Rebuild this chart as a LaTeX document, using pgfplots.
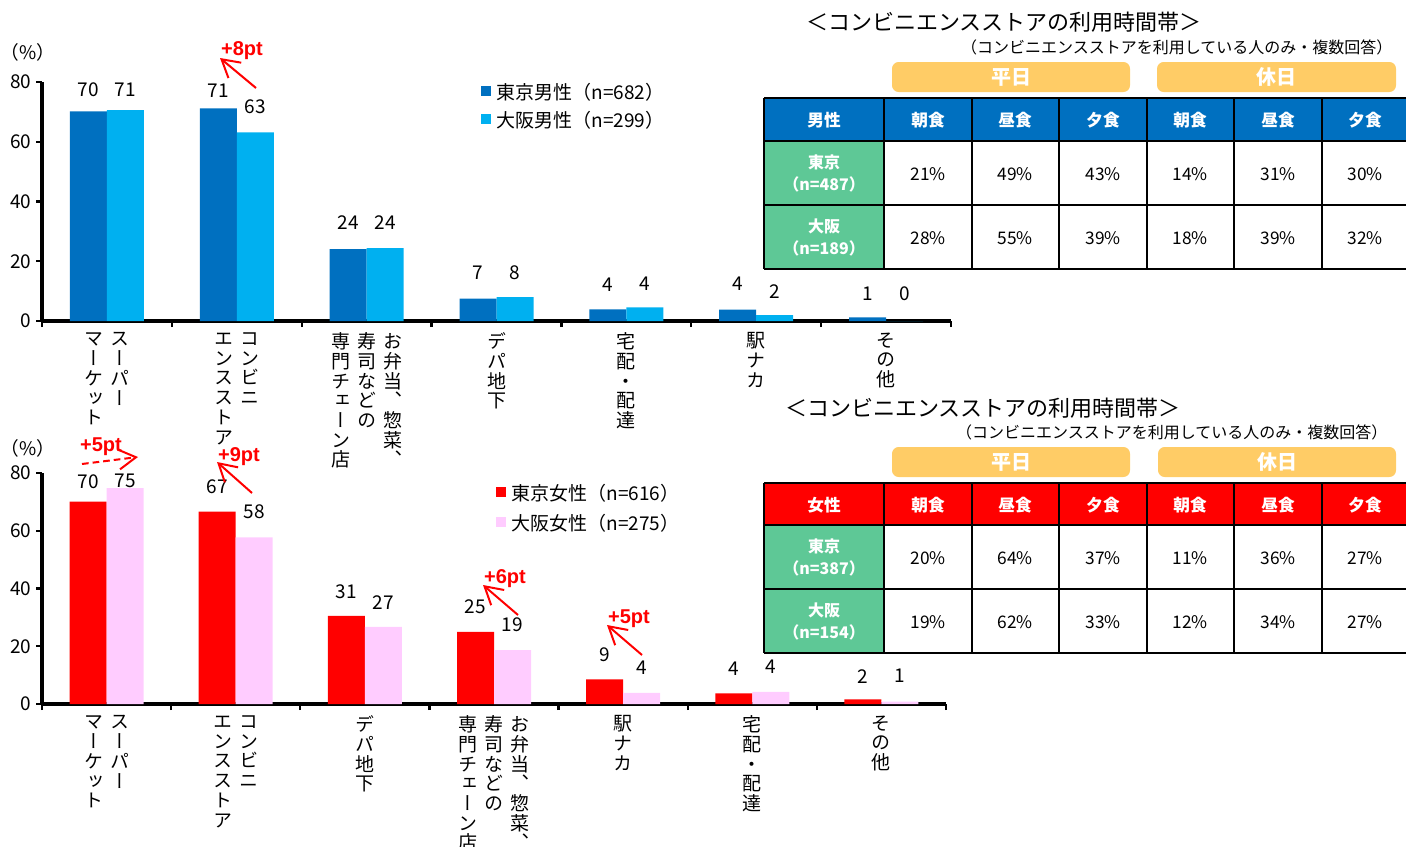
\documentclass[border=0pt]{standalone}
\usepackage{fontspec}
\usepackage{pgfplots}
\pgfplotsset{compat=1.18}
\usepackage{pgfplotstable}
\usetikzlibrary{arrows.meta}
\setmainfont{Noto Sans CJK JP}
\newfontfamily\vjp[RawFeature=+vert]{Noto Sans CJK JP}
\newfontfamily\arl{Liberation Sans}
\definecolor{tkm}{HTML}{0070C0}
\definecolor{osm}{HTML}{00B0F0}
\definecolor{tkf}{HTML}{FF0000}
\definecolor{osf}{HTML}{FFCCFF}
\definecolor{pill}{HTML}{FFCC66}
\definecolor{grn}{RGB}{94,200,150}
\newcommand{\myfs}[2]{\fontsize{#1}{#2}\selectfont}
\newcommand{\vc}[1]{\parbox[t]{14.25pt}{\centering\vjp\fontsize{14.25}{14.8}\selectfont #1}}
\newcommand{\vs}{\hspace{5.25pt}}

\pgfplotstableread{
x y lab off
0 70.2 70 21
1 71.2 71 18
2 24.1 24 26
3 7.5 7 26
4 3.9 4 25
5 3.8 4 26
6 1.2 1 24
}\topT
\pgfplotstableread{
x y lab off
0 70.6 71 20
1 63.1 63 25
2 24.4 24 25
3 8.0 8 24
4 4.6 4 23
5 2.0 2 23
6 0 0 27
}\topO
\pgfplotstableread{
x y lab off
0 70.1 70 20
1 66.6 67 25
2 30.5 31 24
3 25.0 25 25
4 8.5 9 24
5 3.7 4 25
6 1.6 2 23
}\botT
\pgfplotstableread{
x y lab off
0 74.8 75 7
1 57.7 58 25
2 26.7 27 24
3 18.7 19 25
4 3.9 4 25
5 4.2 4 25
6 0.8 1 26
}\botO

\pgfplotsset{
  mybase/.style={
    scale only axis, clip=false,
    xmin=-0.5, xmax=6.5, ymin=0, ymax=80,
    axis lines=left, axis line style={-, line width=2.4pt, black},
    ybar=0pt, bar width=27.75pt,
    xtick={-0.5,0.5,...,6.5}, x tick label as interval,
    ytick={0,20,...,80},
    tick align=outside, major tick length=4.5pt,
    tick style={black, line width=1.8pt},
    /pgf/number format/assume math mode=true,
    yticklabel style={font=\myfs{14.25}{17}},
    xticklabel style={anchor=north, inner sep=0pt, yshift=-4pt},
    point meta=explicit symbolic,
    nodes near coords={\pgfplotspointmeta},
    visualization depends on={\thisrow{off} \as \myoff},
    every node near coord/.append style={font=\myfs{14.25}{17}, black, inner sep=0pt, anchor=south, yshift={0.75*(\myoff-7)}},
    legend cell align=left,
    legend style={draw=none, fill=none, inner sep=0pt, column sep=4pt, font=\myfs{14.25}{17}, anchor=north west, nodes={inner sep=0pt}},
  },
  sqleg/.style={legend image code/.code={\fill[#1] (0pt,-2.75pt) rectangle (7.5pt,4.75pt);}},
}

\begin{document}
\begin{tikzpicture}
\useasboundingbox (0pt,0pt) rectangle (1054.5pt,-634.5pt);

% ---------- top chart (male)
\begin{axis}[mybase,
  at={(31.5pt,-240.75pt)}, anchor=south west,
  width=681.75pt, height=179.25pt,
  xticklabels={
    {\mbox{\vc{マ\\ー\\ケ\\ッ\\ト}\vs\vc{ス\\ー\\パ\\ー}}},
    {\mbox{\vc{エ\\ン\\ス\\ス\\ト\\ア}\vs\vc{コ\\ン\\ビ\\ニ}}},
    {\mbox{\vc{専\\門\\チ\\ェ\\ー\\ン\\店}\vs\vc{寿\\司\\な\\ど\\の}\vs\vc{お\\弁\\当\\、\\惣\\菜\\、}}},
    {\mbox{\vc{デ\\パ\\地\\下}}},
    {\mbox{\vc{宅\\配\\・\\配\\達}}},
    {\mbox{\vc{駅\\ナ\\カ}}},
    {\mbox{\vc{そ\\の\\他}}}},
  legend style={at={(0.483,0.998)}, row sep=7.5pt},
]
\addplot[fill=tkm, draw=none, sqleg={tkm}] table[x=x,y=y,meta=lab]{\topT};
\addplot[fill=osm, draw=none, sqleg={osm}] table[x=x,y=y,meta=lab]{\topO};
\addlegendentry{東京男性（n=682）}
\addlegendentry{大阪男性（n=299）}
\end{axis}

% ---------- bottom chart (female)
\begin{axis}[mybase,
  at={(31.5pt,-528pt)}, anchor=south west,
  width=678pt, height=173.25pt,
  xticklabels={
    {\mbox{\vc{マ\\ー\\ケ\\ッ\\ト}\vs\vc{ス\\ー\\パ\\ー}}},
    {\mbox{\vc{エ\\ン\\ス\\ス\\ト\\ア}\vs\vc{コ\\ン\\ビ\\ニ}}},
    {\mbox{\vc{デ\\パ\\地\\下}}},
    {\mbox{\vc{専\\門\\チ\\ェ\\ー\\ン\\店}\vs\vc{寿\\司\\な\\ど\\の}\vs\vc{お\\弁\\当\\、\\惣\\菜\\、}}},
    {\mbox{\vc{駅\\ナ\\カ}}},
    {\mbox{\vc{宅\\配\\・\\配\\達}}},
    {\mbox{\vc{そ\\の\\他}}}},
  legend style={at={(0.502,0.9545)}, row sep=9pt},
]
\addplot[fill=tkf, draw=none, sqleg={tkf}] table[x=x,y=y,meta=lab]{\botT};
\addplot[fill=osf, draw=none, sqleg={osf}] table[x=x,y=y,meta=lab]{\botO};
\addlegendentry{東京女性（n=616）}
\addlegendentry{大阪女性（n=275）}
\end{axis}

\begin{scope}[x=0.75pt,y=-0.75pt]
% y-axis unit labels
\node[font=\myfs{14}{16}] at (28,52) {（\%）};
\node[font=\myfs{14}{16}] at (28,448) {（\%）};

% annotations
\tikzset{ann/.style={red, line width=1.5pt, -{Straight Barb[length=13pt,width=15pt]}},
         annt/.style={red, font=\arl\bfseries\myfs{15}{17}}}
\node[annt] at (242,51) {+8pt};
\draw[ann] (256,88) -- (220,58);
\node[annt] at (101,447) {+5pt};
\draw[ann, dash pattern=on 5pt off 3pt] (82,464) -- (138,457);
\node[annt] at (239,457) {+9pt};
\draw[ann] (252,493) -- (217,462);
\node[annt] at (505,579) {+6pt};
\draw[ann] (518,615) -- (483,585);
\node[annt] at (629,619) {+5pt};
\draw[ann] (642,655) -- (607,625);

% ---------- top table
\node[font=\myfs{16.5}{18}] at (1004,22) {＜コンビニエンスストアの利用時間帯＞};
\node[font=\myfs{12}{14}, anchor=east] at (1397,47) {（コンビニエンスストアを利用している人のみ・複数回答）};
\fill[pill, rounded corners=5pt] (892,62) rectangle (1130,92);
\fill[pill, rounded corners=5pt] (1157,62) rectangle (1396,92);
\node[white, font=\bfseries\myfs{15}{17}] at (1011,77) {平日};
\node[white, font=\bfseries\myfs{15}{17}] at (1276,77) {休日};
\fill[tkm] (764,98) rectangle (1412,141);
\fill[grn] (764,141) rectangle (884,269);
\foreach \yy in {98,141,205,269} \draw[line width=1.5pt] (764,\yy) -- (1412,\yy);
\foreach \xx in {764,884,972,1059,1147,1234,1322,1409} \draw[line width=1.5pt] (\xx,98) -- (\xx,269);
\foreach \xx/\tt in {824/男性,928/朝食,1015/昼食,1103/夕食,1190/朝食,1278/昼食,1365/夕食}
  \node[white, font=\bfseries\myfs{12.5}{14}] at (\xx,120) {\tt};
\node[white, font=\bfseries\myfs{12}{16.5}, align=center] at (824,173) {東京\\（n=487）};
\node[white, font=\bfseries\myfs{12}{16.5}, align=center] at (824,237) {大阪\\（n=189）};
\foreach \xx/\tt in {928/21,1015/49,1103/43,1190/14,1278/31,1365/30}
  \node[font=\myfs{13}{15}] at (\xx,174) {\tt\%};
\foreach \xx/\tt in {928/28,1015/55,1103/39,1190/18,1278/39,1365/32}
  \node[font=\myfs{13}{15}] at (\xx,238) {\tt\%};

% ---------- bottom table
\node[font=\myfs{16.5}{18}] at (983,408) {＜コンビニエンスストアの利用時間帯＞};
\node[font=\myfs{12}{14}, anchor=east] at (1392,432) {（コンビニエンスストアを利用している人のみ・複数回答）};
\fill[pill, rounded corners=5pt] (892,447) rectangle (1130,477);
\fill[pill, rounded corners=5pt] (1158,447) rectangle (1396,477);
\node[white, font=\bfseries\myfs{15}{17}] at (1011,462) {平日};
\node[white, font=\bfseries\myfs{15}{17}] at (1277,462) {休日};
\fill[tkf] (764,483) rectangle (1412,525);
\fill[grn] (764,525) rectangle (884,653);
\foreach \yy in {483,525,589,653} \draw[line width=1.5pt] (764,\yy) -- (1412,\yy);
\foreach \xx in {764,884,972,1059,1147,1234,1322,1409} \draw[line width=1.5pt] (\xx,483) -- (\xx,653);
\foreach \xx/\tt in {824/女性,928/朝食,1015/昼食,1103/夕食,1190/朝食,1278/昼食,1365/夕食}
  \node[white, font=\bfseries\myfs{12.5}{14}] at (\xx,505) {\tt};
\node[white, font=\bfseries\myfs{12}{16.5}, align=center] at (824,557) {東京\\（n=387）};
\node[white, font=\bfseries\myfs{12}{16.5}, align=center] at (824,621) {大阪\\（n=154）};
\foreach \xx/\tt in {928/20,1015/64,1103/37,1190/11,1278/36,1365/27}
  \node[font=\myfs{13}{15}] at (\xx,558) {\tt\%};
\foreach \xx/\tt in {928/19,1015/62,1103/33,1190/12,1278/34,1365/27}
  \node[font=\myfs{13}{15}] at (\xx,622) {\tt\%};

% page number (cut off)
\node[font=\myfs{14}{16}] at (693,857) {3/3};
\end{scope}
\end{tikzpicture}
\end{document}
